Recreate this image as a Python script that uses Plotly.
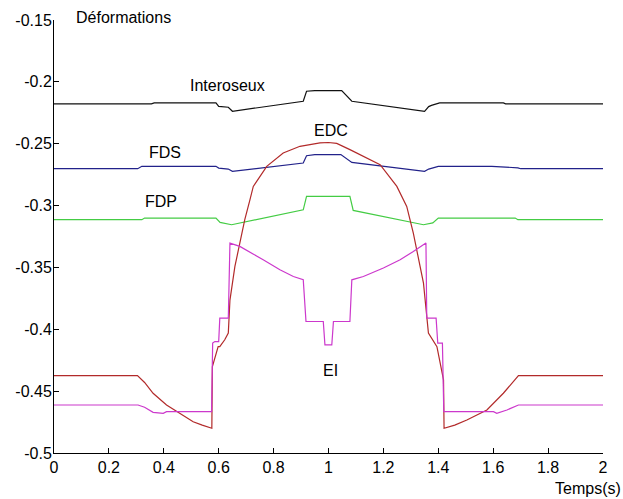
import plotly.graph_objects as go

# Strain time series (time in s, strain values)
t_inter = [0, 0.355, 0.365, 0.59, 0.60, 0.635, 0.65, 0.908, 0.92, 0.95, 1.048, 1.085,
           1.35, 1.365, 1.375, 1.405, 1.637, 1.645, 2]
v_inter = [-0.2178, -0.2178, -0.2170, -0.2170, -0.2198, -0.2205, -0.2238, -0.2157, -0.2076,
           -0.2071, -0.2071, -0.2157, -0.2238, -0.2200, -0.2190, -0.2170, -0.2170, -0.2178,
           -0.2178]

t_fds = [0, 0.305, 0.32, 0.59, 0.60, 0.635, 0.65, 0.908, 0.92, 0.95, 1.045, 1.085, 1.35,
         1.365, 1.40, 1.595, 1.69, 1.70, 2]
v_fds = [-0.2702, -0.2702, -0.2683, -0.2683, -0.2697, -0.2705, -0.2723, -0.2656, -0.2597,
         -0.2588, -0.2588, -0.2651, -0.2723, -0.2705, -0.2683, -0.2683, -0.2695, -0.2702,
         -0.2702]

t_fdp = [0, 0.32, 0.33, 0.59, 0.605, 0.647, 0.908, 0.92, 1.078, 1.09, 1.346, 1.38, 1.40,
         1.68, 1.69, 2]
v_fdp = [-0.3114, -0.3114, -0.3101, -0.3101, -0.3136, -0.3155, -0.3034, -0.2926, -0.2926,
         -0.3039, -0.3155, -0.3140, -0.3101, -0.3101, -0.3114, -0.3114]

t_edc = [0, 0.304, 0.33, 0.361, 0.41, 0.458, 0.507, 0.54, 0.575, 0.577, 0.598, 0.604,
         0.622, 0.635, 0.641, 0.659, 0.677, 0.695, 0.714, 0.726, 0.775, 0.835, 0.896,
         0.969, 1.0, 1.03, 1.078, 1.188, 1.249, 1.285, 1.309, 1.322, 1.346, 1.364, 1.395,
         1.419, 1.421, 1.46, 1.504, 1.577, 1.637, 1.692, 2]
v_edc = [-0.4374, -0.4374, -0.4430, -0.4517, -0.4612, -0.4679, -0.4747, -0.4775, -0.4800,
         -0.4302, -0.4140, -0.4140, -0.4085, -0.4030, -0.3764, -0.3492, -0.3303, -0.3114,
         -0.2952, -0.2845, -0.2683, -0.2575, -0.2521, -0.2494, -0.2490, -0.2497, -0.2548,
         -0.2669, -0.2845, -0.3007, -0.3222, -0.3357, -0.3627, -0.4031, -0.4140, -0.4409,
         -0.4800, -0.4775, -0.4733, -0.4652, -0.4517, -0.4374, -0.4374]

t_ei = [0, 0.306, 0.33, 0.361, 0.398, 0.41, 0.574, 0.578, 0.586, 0.600, 0.604, 0.635,
        0.641, 0.677, 0.762, 0.823, 0.872, 0.908, 0.918, 0.981, 0.987, 1.012, 1.018, 1.078,
        1.085, 1.127, 1.2, 1.261, 1.309, 1.355, 1.358, 1.392, 1.398, 1.415, 1.42, 1.601,
        1.613, 1.65, 1.692, 2]
v_ei = [-0.4612, -0.4612, -0.4630, -0.4671, -0.4679, -0.4666, -0.4666, -0.4112, -0.4099,
        -0.4099, -0.3910, -0.3910, -0.3303, -0.3330, -0.3438, -0.3519, -0.3573, -0.3600,
        -0.3937, -0.3937, -0.4126, -0.4126, -0.3937, -0.3937, -0.3600, -0.3573, -0.3505,
        -0.3438, -0.3371, -0.3303, -0.3910, -0.3910, -0.4112, -0.4112, -0.4666, -0.4666,
        -0.4679, -0.4652, -0.4612, -0.4612]

y_ticks = [-0.5, -0.45, -0.4, -0.35, -0.3, -0.25, -0.2, -0.15]
y_tick_text = ["-0.5", "-0.45", "-0.4", "-0.35", "-0.3", "-0.25", "-0.2", "-0.15"]
x_ticks = [0, 0.2, 0.4, 0.6, 0.8, 1, 1.2, 1.4, 1.6, 1.8, 2]
x_tick_text = ["0", "0.2", "0.4", "0.6", "0.8", "1", "1.2", "1.4", "1.6", "1.8", "2"]

series = [
    ("Interoseux", t_inter, v_inter, "#111111"),
    ("FDS", t_fds, v_fds, "#22228a"),
    ("FDP", t_fdp, v_fdp, "#44cc44"),
    ("EDC", t_edc, v_edc, "#b22a2a"),
    ("EI", t_ei, v_ei, "#cc38cc"),
]

# curve labels placed next to each trace: (text, x, y)
labels = [
    ("Interoseux", 0.633, -0.2030),
    ("FDS", 0.405, -0.2570),
    ("FDP", 0.389, -0.2971),
    ("EDC", 1.010, -0.2394),
    ("EI", 1.007, -0.4334),
]

fig = go.Figure()
for name, t, v, color in series:
    fig.add_trace(go.Scatter(x=t, y=v, mode="lines", name=name,
                             line=dict(color=color, width=1.2), showlegend=False))

font = dict(family="Liberation Sans, Arial, sans-serif", size=16, color="black")

for text, x, y in labels:
    fig.add_annotation(x=x, y=y, text=text, showarrow=False, font=font,
                       xanchor="center", yanchor="middle")

# axis titles sit outside the plotting area, so they use paper coordinates
fig.add_annotation(x=0.036, y=1.006, xref="paper", yref="paper", text="Déformations",
                   showarrow=False, font=font, xanchor="left", yanchor="middle")
fig.add_annotation(x=1.036, y=-0.081, xref="paper", yref="paper", text="Temps(s)",
                   showarrow=False, font=font, xanchor="right", yanchor="middle")

fig.update_layout(
    width=623, height=499,
    margin=dict(l=54, r=20, t=20, b=46),
    paper_bgcolor="white", plot_bgcolor="white",
    font=font,
)
fig.update_xaxes(range=[0, 2], tickvals=x_ticks, ticktext=x_tick_text,
                 showgrid=False, zeroline=False, showline=True, linecolor="black",
                 linewidth=1, ticks="inside", ticklen=5, tickcolor="black")
fig.update_yaxes(range=[-0.5, -0.15], tickvals=y_ticks, ticktext=y_tick_text,
                 showgrid=False, zeroline=False, showline=True, linecolor="black",
                 linewidth=1, ticks="inside", ticklen=5, tickcolor="black",
                 ticklabelstandoff=-2)

fig.write_html("out.html")
